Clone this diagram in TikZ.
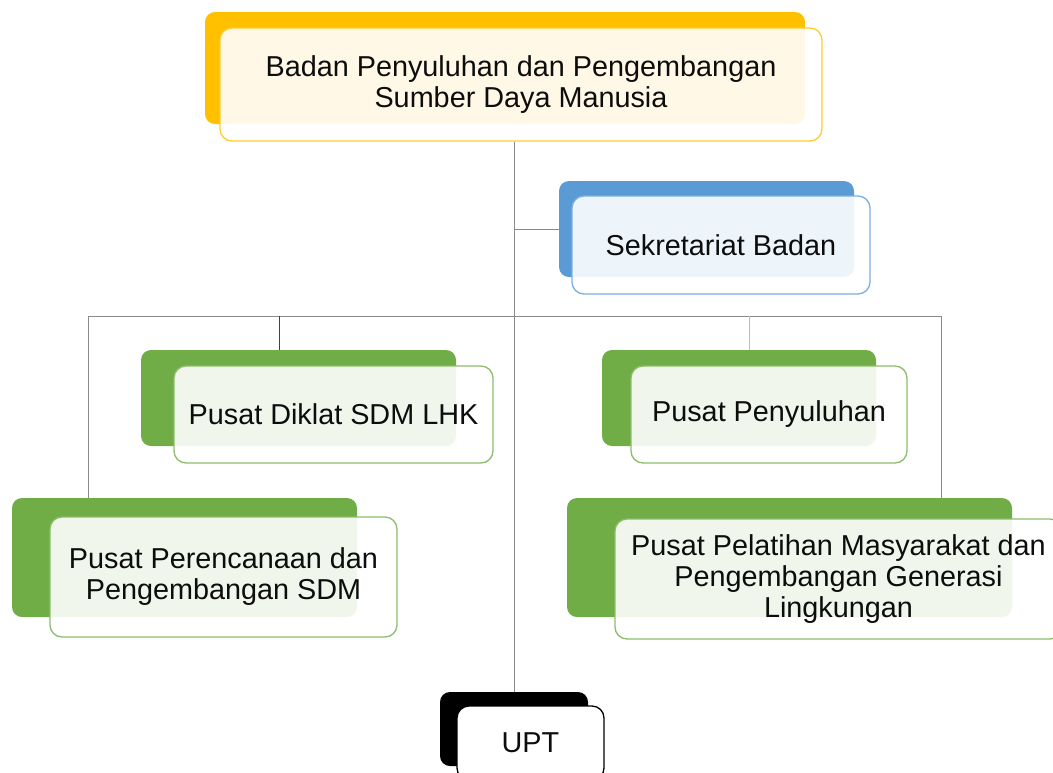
\documentclass[tikz,border=0pt]{standalone}
\usepackage{fontspec}
\setmainfont{Liberation Sans}
\definecolor{cyel}{HTML}{FFC000}
\definecolor{cblu}{HTML}{5B9BD5}
\definecolor{cgrn}{HTML}{70AD47}
\definecolor{cline}{HTML}{8A8A8A}
\definecolor{clblue}{HTML}{9DC3E6}
\definecolor{ctext}{HTML}{0D0D0D}
\tikzset{
  backbox/.style={rectangle, rounded corners=10pt, fill=#1, draw=none, inner sep=0pt},
  frontbox/.style={rectangle, rounded corners=12pt, draw=#1!80, line width=1.3pt, fill=white, fill opacity=0.9, text opacity=1, inner sep=0pt, align=center, text=ctext, font=\fontsize{28.8}{31}\selectfont},
  conn/.style={draw=cline, line width=1pt}
}
\begin{document}
\begin{tikzpicture}[x=1pt,y=-1pt]
\useasboundingbox (0,0) rectangle (1053,772);
\clip (0,0) rectangle (1053,772);
\fill[white] (0,0) rectangle (1053,772);
% back boxes
\node[backbox=cyel, minimum width=600pt, minimum height=112pt] (topb) at (505,68) {};
\node[backbox=cblu, minimum width=295pt, minimum height=96pt] (sekb) at (706.5,229) {};
\node[backbox=cgrn, minimum width=315pt, minimum height=96pt] (dikb) at (298.5,398) {};
\node[backbox=cgrn, minimum width=274pt, minimum height=96pt] (penb) at (739,398) {};
\node[backbox=cgrn, minimum width=345pt, minimum height=119pt] (perb) at (184.5,557.5) {};
\node[backbox=cgrn, minimum width=445pt, minimum height=119pt] (pelb) at (789.5,557.5) {};
\node[backbox=black, minimum width=148pt, minimum height=74pt] (uptb) at (514,729) {};
% connectors
\coordinate (busL) at (88,316);
\coordinate (busD) at (279,316);
\coordinate (busP) at (749,316);
\coordinate (busR) at (941,316);
\node[frontbox=cyel, minimum width=602pt, minimum height=113pt] (topf) at (521,84.5) {Badan Penyuluhan dan Pengembangan\\Sumber Daya Manusia};
\draw[conn] (uptb.north |- topf.south) -- (uptb.north);
\draw[conn] (uptb.north |- sekb.west) -- (sekb.west);
\draw[conn] (busL) -- (busR);
\draw[conn] (busL) -- (busL |- perb.north);
\draw[conn] (busR) -- (busR |- pelb.north);
\draw[conn, draw=black!75] (busD) -- (busD |- dikb.north);
\draw[conn, draw=clblue] (busP) -- (busP |- penb.north);
% front boxes
\node[frontbox=cblu, minimum width=298pt, minimum height=98pt] (sekf) at (721,245) {Sekretariat Badan};
\node[frontbox=cgrn, minimum width=319pt, minimum height=97pt] (dikf) at (333.5,414.5) {Pusat Diklat SDM LHK};
\node[frontbox=cgrn, minimum width=276pt, minimum height=97pt] (penf) at (769,414.5) {Pusat Penyuluhan};
\node[frontbox=cgrn, minimum width=347pt, minimum height=120pt] (perf) at (223.5,577) {Pusat Perencanaan dan\\Pengembangan SDM};
\node[frontbox=cgrn, minimum width=447pt, minimum height=120pt] (pelf) at (838.5,579) {Pusat Pelatihan Masyarakat dan\\Pengembangan Generasi\\Lingkungan};
\node[frontbox=black, minimum width=147pt, minimum height=74pt, draw=black, fill opacity=1] (uptf) at (530.5,743) {UPT};
\end{tikzpicture}
\end{document}
